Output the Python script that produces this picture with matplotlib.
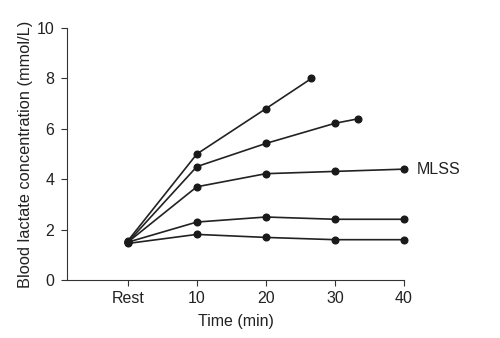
import matplotlib
matplotlib.use("Agg")
import matplotlib.pyplot as plt

plt.rcParams['font.family'] = ['Liberation Sans', 'DejaVu Sans']

tick_positions = [0, 10, 20, 30, 40]
tick_labels = ["Rest", "10", "20", "30", "40"]

series_x = [
    [0, 10, 20, 26.6],
    [0, 10, 20, 30, 33.4],
    [0, 10, 20, 30, 40],
    [0, 10, 20, 30, 40],
    [0, 10, 20, 30, 40],
]
series_y = [
    [1.55, 5.0, 6.8, 8.0],
    [1.5, 4.5, 5.42, 6.22, 6.4],
    [1.5, 3.7, 4.22, 4.31, 4.4],
    [1.5, 2.3, 2.5, 2.41, 2.41],
    [1.45, 1.81, 1.69, 1.6, 1.6],
]
label_text = "MLSS"

fig = plt.figure(figsize=(5, 3.38), dpi=100)
ax = fig.add_axes([0.134, 0.1716, 0.674, 0.7454])
for xs, ys in zip(series_x, series_y):
    ax.plot(xs, ys, color='#222222', lw=1.2, marker='o', ms=4.8,
            mfc='#1a1a1a', mec='#1a1a1a', clip_on=False)

ax.annotate(label_text, xy=(40, series_y[2][-1]), xytext=(9.5, 0),
            textcoords='offset points', va='center', ha='left', fontsize=11.5, color='#222222')

ax.set_xlim(-8.8, 40)
ax.set_ylim(0, 10)
ax.set_xticks(tick_positions)
ax.set_xticklabels(tick_labels)
ax.set_yticks([0, 2, 4, 6, 8, 10])
ax.spines['top'].set_visible(False)
ax.spines['right'].set_visible(False)
for s in ['left', 'bottom']:
    ax.spines[s].set_color('#333333')
ax.tick_params(direction='out', length=4, width=0.8, color='#333333', labelsize=11.5,
               labelcolor='#222222', pad=5)
ax.tick_params(axis='x', pad=4)
ax.set_xlabel("Time (min)", fontsize=11.5, color='#222222', labelpad=6)
ax.set_ylabel("Blood lactate concentration (mmol/L)", fontsize=11.8, color='#222222', labelpad=3)

fig.savefig("out.png", dpi=100)
